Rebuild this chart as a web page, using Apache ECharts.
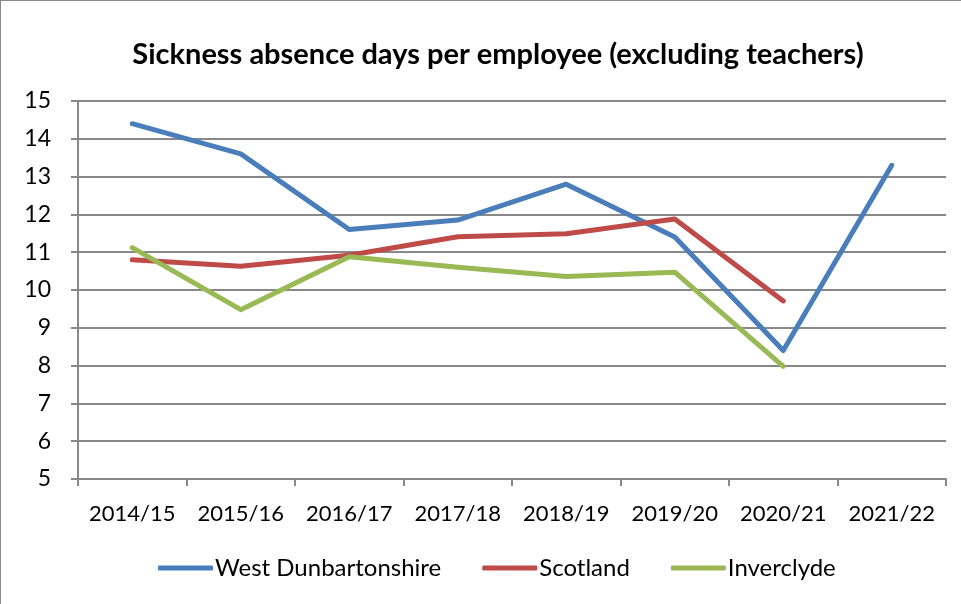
<!DOCTYPE html>
<html>
<head>
<meta charset="utf-8">
<script src="https://cdn.jsdelivr.net/npm/echarts@6/dist/echarts.min.js"></script>
<style>
  html, body { margin: 0; padding: 0; background: #fff; }
  #chart { width: 961px; height: 604px; box-sizing: border-box; border-left: 1px solid #888; border-top: 1px solid #888; }
</style>
</head>
<body>
<div id="chart"></div>
<script>
// categories and values
var years = ['2014/15', '2015/16', '2016/17', '2017/18', '2018/19', '2019/20', '2020/21', '2021/22'];
var westDunbartonshire = [14.4, 13.6, 11.6, 11.85, 12.8, 11.4, 8.4, 13.3];
var scotland = [10.8, 10.63, 10.92, 11.41, 11.49, 11.88, 9.71, null];
var inverclyde = [11.12, 9.48, 10.88, 10.6, 10.36, 10.47, 7.98, null];

var font = 'Lato, "Open Sans", sans-serif';

function lineSeries(name, data, color) {
  return {
    name: name,
    type: 'line',
    data: data,
    symbol: 'none',
    connectNulls: false,
    lineStyle: { color: color, width: 5, cap: 'round', join: 'round' },
    itemStyle: { color: color }
  };
}

var chart = echarts.init(document.getElementById('chart'));
chart.setOption({
  animation: false,
  title: {
    text: 'Sickness absence days per employee (excluding teachers)',
    left: 492,
    textAlign: 'center',
    top: 34,
    textStyle: { fontFamily: font, fontWeight: 'bold', fontSize: 29, color: '#000' }
  },
  grid: { left: 77, right: 15, top: 100, bottom: 125 },
  legend: {
    bottom: 19,
    left: 152,
    itemWidth: 55,
    itemHeight: 5,
    itemGap: 41,
    icon: 'roundRect',
    textStyle: { fontFamily: font, fontSize: 24, color: '#000', padding: [0, 0, 0, -3] },
    data: ['West Dunbartonshire', 'Scotland', 'Inverclyde']
  },
  xAxis: {
    type: 'category',
    data: years,
    boundaryGap: true,
    axisLine: { lineStyle: { color: '#888', width: 2 } },
    axisTick: { show: true, interval: 0, length: 7, lineStyle: { color: '#888', width: 2 } },
    axisLabel: { interval: 0, hideOverlap: false, fontFamily: font, fontSize: 22, color: '#000', margin: 24 },
    splitLine: { show: false }
  },
  yAxis: {
    type: 'value',
    min: 5,
    max: 15,
    interval: 1,
    axisLine: { show: true, lineStyle: { color: '#888', width: 2 } },
    axisTick: { show: true, length: 7, lineStyle: { color: '#888', width: 2 } },
    axisLabel: { fontFamily: font, fontSize: 23, color: '#000', margin: 27 },
    splitLine: { lineStyle: { color: '#888', width: 2 } }
  },
  series: [
    lineSeries('West Dunbartonshire', westDunbartonshire, '#4A7EBB'),
    lineSeries('Scotland', scotland, '#BE4B48'),
    lineSeries('Inverclyde', inverclyde, '#98B954')
  ]
});
</script>
</body>
</html>
